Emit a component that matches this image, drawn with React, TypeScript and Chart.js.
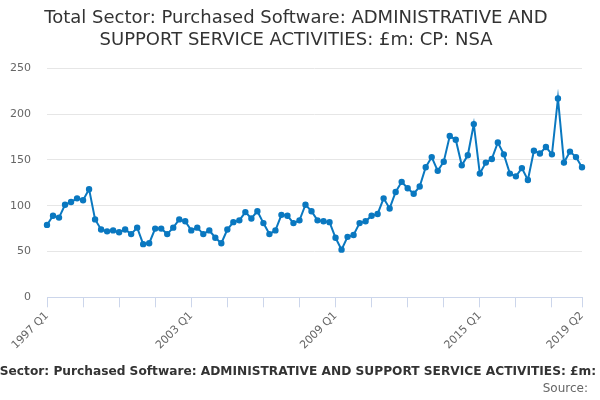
import { useEffect, useRef } from "react";
import { Chart, registerables } from "chart.js";
Chart.register(...registerables);

const TITLE = "Total Sector: Purchased Software: ADMINISTRATIVE AND SUPPORT SERVICE ACTIVITIES: £m: CP: NSA";
const TITLE_LINES = [
  "Total Sector: Purchased Software: ADMINISTRATIVE AND",
  "SUPPORT SERVICE ACTIVITIES: £m: CP: NSA",
];

// quarters 1997 Q1 .. 2019 Q2
const quarters: string[] = [];
for (let y = 1997; y <= 2019; y++) {
  for (let q = 1; q <= 4; q++) {
    if (y === 2019 && q > 2) break;
    quarters.push(`${y} Q${q}`);
  }
}

const values = [
  79, 89, 87, 101, 104, 108, 106, 118, 85, 74,
  72, 73, 71, 74, 69, 76, 58, 59, 75, 75,
  69, 76, 85, 83, 73, 76, 69, 73, 65, 59,
  74, 82, 84, 93, 86, 94, 81, 69, 73, 90,
  89, 81, 84, 101, 94, 84, 83, 82, 65, 52,
  66, 68, 81, 83, 89, 91, 108, 97, 115, 126,
  119, 113, 121, 142, 153, 138, 148, 176, 172, 144,
  155, 189, 135, 147, 151, 169, 156, 135, 132, 141,
  128, 160, 157, 164, 156, 217, 147, 159, 153, 142,
];

const labelEvery = 24;
const tickEvery = 6;

const footerPlugin = {
  id: "footer",
  afterDraw(chart: Chart) {
    const ctx = chart.ctx;
    ctx.save();
    ctx.textBaseline = "middle";
    ctx.font = 'bold 12.2px "DejaVu Sans"';
    ctx.fillStyle = "#333333";
    ctx.textAlign = "center";
    ctx.fillText(TITLE, chart.width / 2 + 9, 372);
    ctx.font = '12px "DejaVu Sans"';
    ctx.fillStyle = "#666666";
    ctx.textAlign = "right";
    ctx.fillText("Source:", chart.width - 12, 389);
    ctx.restore();
  },
};

export default function App() {
  const ref = useRef<HTMLCanvasElement>(null);

  useEffect(() => {
    if (!ref.current) return;
    const last = quarters.length - 1;
    const showTick = (i: number) => i % tickEvery === 0 || i === last;

    const chart = new Chart(ref.current, {
      type: "line",
      data: {
        labels: quarters,
        datasets: [
          {
            data: values,
            borderColor: "#0a78c0",
            backgroundColor: "#0a78c0",
            borderWidth: 2,
            pointRadius: 2.2,
            pointHoverRadius: 3,
            tension: 0,
          },
        ],
      },
      options: {
        animation: false,
        responsive: true,
        maintainAspectRatio: false,
        layout: { padding: { left: 10, right: 18, bottom: 46 } },
        plugins: {
          legend: { display: false },
          tooltip: { enabled: false },
          title: {
            display: true,
            text: TITLE_LINES,
            color: "#333333",
            font: { family: "DejaVu Sans", size: 18, weight: "normal", lineHeight: 1.2 },
            padding: { top: 8, bottom: 17 },
          },
        },
        scales: {
          x: {
            offset: false,
            afterFit: (s: any) => {
              s.paddingLeft = 0;
            },
            grid: {
              drawOnChartArea: false,
              tickLength: 10,
              color: (c: any) => (showTick(c.index) ? "#ccd6eb" : "transparent"),
            },
            border: { display: true, color: "#ccd6eb" },
            ticks: {
              autoSkip: false,
              maxRotation: 45,
              minRotation: 45,
              padding: 2,
              color: "#666666",
              font: { family: "DejaVu Sans", size: 11 },
              callback: (_v: any, i: number) =>
                i % labelEvery === 0 || i === last ? quarters[i] : "",
            },
          },
          y: {
            min: 0,
            max: 250,
            afterFit: (s: any) => {
              s.width = 37;
            },
            grid: { color: "#e6e6e6", drawTicks: false },
            border: { display: false },
            ticks: {
              stepSize: 50,
              padding: 16,
              color: "#666666",
              font: { family: "DejaVu Sans", size: 11 },
            },
          },
        },
      },
      plugins: [footerPlugin],
    });

    return () => chart.destroy();
  }, []);

  return (
    <div style={{ position: "absolute", left: 0, top: 0, width: 600, height: 400, background: "#fff" }}>
      <canvas ref={ref}></canvas>
    </div>
  );
}
